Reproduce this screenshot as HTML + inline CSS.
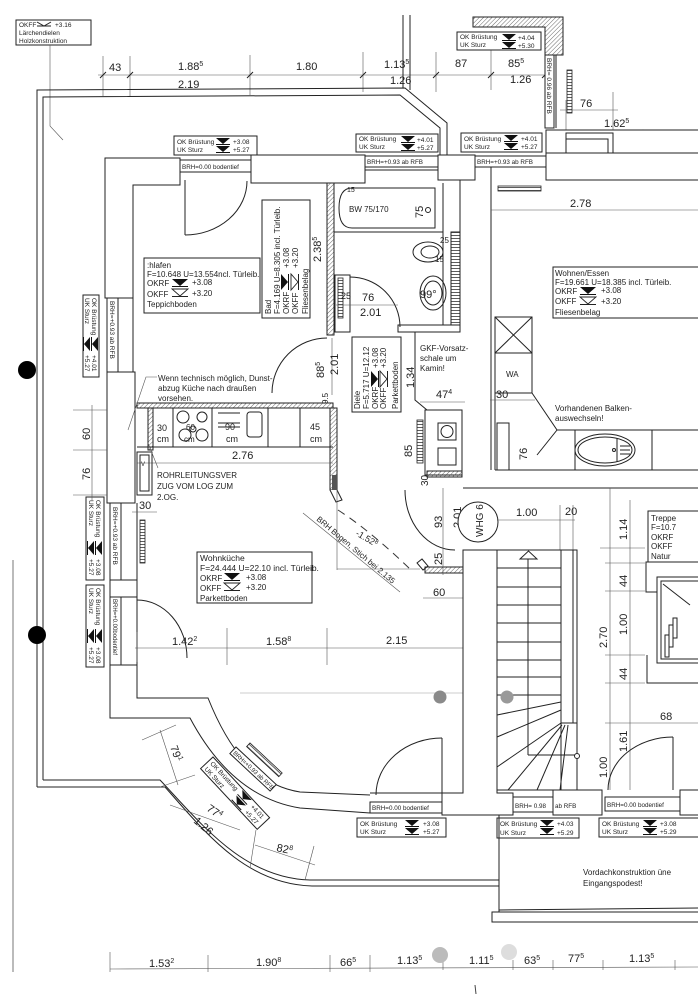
<!DOCTYPE html>
<html><head><meta charset="utf-8">
<style>
html,body{margin:0;padding:0;background:#fff;}
svg{display:block;}
text{font-family:"Liberation Sans",sans-serif;fill:#222;}
.s{stroke:#222;stroke-width:1;fill:none;}
.t{stroke:#555;stroke-width:0.6;fill:none;}
.w{stroke:#222;stroke-width:1;fill:#fff;}
.d{font-size:11px;}
.n{font-size:8px;}
.m{font-size:6.5px;}
</style></head><body>
<svg width="698" height="1000" viewBox="0 0 698 1000" xmlns="http://www.w3.org/2000/svg">
<defs>
<pattern id="h" width="3" height="3" patternUnits="userSpaceOnUse" patternTransform="rotate(45)"><line x1="0" y1="0" x2="0" y2="3" stroke="#444" stroke-width="0.8"/></pattern>
<pattern id="hz" width="3" height="3" patternUnits="userSpaceOnUse"><line x1="0" y1="1.5" x2="3" y2="1.5" stroke="#333" stroke-width="0.8"/></pattern>
<g id="mk"><polygon points="0,0 14,0 7,6" fill="#111"/><line x1="0" y1="6.5" x2="14" y2="6.5" stroke="#111"/><polygon points="0,8 14,8 7,14" fill="#111"/><line x1="0" y1="14.5" x2="14" y2="14.5" stroke="#111"/></g>
<g id="rf"><polygon points="0,0 16,0 8,7" fill="#111"/><line x1="0" y1="7.5" x2="16" y2="7.5" stroke="#111"/></g>
<g id="ff"><polygon points="0,0 16,0 8,7" fill="none" stroke="#222" stroke-width="0.9"/><line x1="0" y1="7.5" x2="16" y2="7.5" stroke="#222"/></g>
</defs>
<rect width="698" height="1000" fill="#fff"/>

<!-- page edge line -->
<line x1="13" y1="560" x2="13" y2="972" stroke="#777" stroke-width="1"/>

<!-- top-left note -->
<rect x="16" y="20" width="75" height="25" class="s"/>
<text x="19" y="27" class="m">OKFF</text>
<path d="M37,22 L44,26 L51,22 M37,26 L51,26" class="s" stroke-width="0.8"/>
<text x="55" y="27" class="m">+3.16</text>
<text x="19" y="35" class="m">Lärchendielen</text>
<text x="19" y="43" class="m">Holzkonstruktion</text>
<polyline points="50,45 50,126 63,140" class="t"/>

<!-- top dimensions -->
<line x1="98" y1="75" x2="552" y2="75" class="t"/>
<g class="t">
<line x1="103" y1="56" x2="103" y2="96"/><line x1="130" y1="56" x2="130" y2="96"/><line x1="250" y1="55" x2="250" y2="95"/>
<line x1="363" y1="52" x2="363" y2="92"/><line x1="436" y1="52" x2="436" y2="92"/><line x1="491" y1="50" x2="491" y2="90"/><line x1="545" y1="50" x2="545" y2="90"/>
</g>
<g stroke="#222" stroke-width="1">
<line x1="100" y1="78" x2="106" y2="72"/><line x1="127" y1="78" x2="133" y2="72"/><line x1="247" y1="78" x2="253" y2="72"/><line x1="360" y1="78" x2="366" y2="72"/><line x1="433" y1="78" x2="439" y2="72"/><line x1="488" y1="78" x2="494" y2="72"/><line x1="542" y1="78" x2="548" y2="72"/>
</g>
<text x="109" y="71" class="d">43</text>
<text x="178" y="70" class="d">1.88<tspan font-size="7" dy="-4">5</tspan></text>
<text x="296" y="70" class="d">1.80</text>
<text x="384" y="68" class="d">1.13<tspan font-size="7" dy="-4">5</tspan></text>
<text x="455" y="67" class="d">87</text>
<text x="508" y="67" class="d">85<tspan font-size="7" dy="-4">5</tspan></text>
<text x="178" y="88" class="d">2.19</text>
<text x="390" y="84" class="d">1.26</text>
<text x="510" y="83" class="d">1.26</text>

<!-- thin verticals near top -->
<line x1="403" y1="15" x2="403" y2="88" class="s"/>
<line x1="410" y1="15" x2="410" y2="90" class="s"/>

<!-- terrace outline -->
<path d="M37,787 L37,90 L405,88 L447,123 L447,155" class="s"/>
<path d="M43,780 L43,97 L400,95 L440,128 L440,155" class="s"/>
<path d="M37,787 L165,787 C205,832 245,884 312,886 L499,886" class="s"/>
<path d="M43,780 L160,780 C200,822 242,878 310,880 L499,880" class="s"/>

<!-- top right hatched -->
<polygon points="473,17 563,17 563,55 545,55 545,27 473,27" fill="url(#h)" stroke="#222"/>
<rect x="457" y="32" width="84" height="18" class="w"/>
<text x="460" y="39" class="m">OK Brüstung</text><text x="460" y="47" class="m">UK Sturz</text>
<use href="#mk" x="502" y="34"/><text x="518" y="40" class="m">+4.04</text><text x="518" y="48" class="m">+5.30</text>
<rect x="545" y="55" width="9" height="73" class="w"/>
<text transform="translate(547,58) rotate(90)" class="m">BRH= 0.96 ab RFB</text>
<line x1="556" y1="55" x2="556" y2="128" class="s"/>
<rect x="567" y="70" width="5" height="43" fill="url(#hz)" stroke="#222" stroke-width="0.8"/>
<line x1="566" y1="100" x2="566" y2="130" class="t"/><line x1="613" y1="92" x2="613" y2="130" class="t"/>
<line x1="560" y1="110" x2="618" y2="110" class="t"/>
<text x="580" y="107" class="d">76</text>
<line x1="546" y1="130" x2="698" y2="130" class="t"/>
<text x="604" y="127" class="d">1.62<tspan font-size="7" dy="-4">5</tspan></text>
<text transform="translate(641,129) rotate(90)" class="d">30</text>

<!-- right top wall -->
<rect x="546" y="130" width="160" height="50" class="w"/>
<line x1="546" y1="153" x2="698" y2="153" class="s"/>
<rect x="566" y="133" width="47" height="20" class="s"/>
<rect x="566" y="139" width="42" height="14" class="s"/>

<!-- top wall labels -->
<rect x="174" y="136" width="83" height="19" class="w"/>
<text x="177" y="144" class="m">OK Brüstung</text><text x="177" y="152" class="m">UK Sturz</text>
<use href="#mk" x="216" y="138"/><text x="233" y="144" class="m">+3.08</text><text x="233" y="152" class="m">+5.27</text>
<rect x="356" y="134" width="82" height="18" class="w"/>
<text x="359" y="141" class="m">OK Brüstung</text><text x="359" y="149" class="m">UK Sturz</text>
<use href="#mk" x="401" y="136"/><text x="417" y="142" class="m">+4.01</text><text x="417" y="150" class="m">+5.27</text>
<rect x="461" y="133" width="81" height="19" class="w"/>
<text x="464" y="141" class="m">OK Brüstung</text><text x="464" y="149" class="m">UK Sturz</text>
<use href="#mk" x="504" y="135"/><text x="521" y="141" class="m">+4.01</text><text x="521" y="149" class="m">+5.27</text>

<!-- top walls -->
<polygon points="105,158 180,158 180,185 133,185 133,298 105,298" class="w"/>
<rect x="180" y="160" width="71" height="12" class="w"/>
<text x="182" y="169" font-size="6.3px">BRH=0.00 bodentief</text>
<rect x="251" y="155" width="114" height="28" class="w"/>
<rect x="365" y="156" width="73" height="11" class="w"/>
<text x="367" y="164" font-size="6.3px">BRH=+0.93 ab RFB</text>
<line x1="365" y1="170" x2="438" y2="170" class="s"/>
<rect x="438" y="155" width="37" height="25" class="w"/>
<rect x="475" y="156" width="71" height="11" class="w"/>
<text x="477" y="164" font-size="6.3px">BRH=+0.93 ab RFB</text>
<line x1="491" y1="167" x2="491" y2="470" class="s"/>
<line x1="491" y1="167" x2="546" y2="167" class="s"/>
<rect x="498" y="186" width="43" height="5" fill="url(#hz)" stroke="#222" stroke-width="0.8"/>
<line x1="491" y1="210" x2="698" y2="210" class="t"/>
<text x="570" y="207" class="d">2.78</text>

<!-- bedroom door -->
<line x1="185" y1="180" x2="185" y2="235" class="s"/>
<path d="M185,235 A62,54 0 0 0 247,181" class="s" stroke-width="0.8"/>

<!-- bedroom label -->
<rect x="144" y="258" width="116" height="55" class="s" stroke="#666"/>
<text x="147" y="268" class="n">:hlafen</text>
<text x="147" y="277" class="n">F=10.648 U=13.554ncl. Türleib.</text>
<text x="147" y="286" class="n" fill="#555">OKRF</text><use href="#rf" x="172" y="279"/><text x="192" y="285" class="n" fill="#555">+3.08</text>
<text x="147" y="297" class="n" fill="#555">OKFF</text><use href="#ff" x="172" y="289"/><text x="192" y="296" class="n" fill="#555">+3.20</text>
<text x="147" y="307" class="n">Teppichboden</text>

<!-- Bad label rotated -->
<g transform="translate(262,318) rotate(-90)">
<rect x="0" y="0" width="118" height="48" class="s" stroke="#666"/>
<text x="4" y="9" class="n">Bad</text>
<text x="4" y="18" class="n">F=4.169 U=8.305 incl. Türleib.</text>
<text x="4" y="27" class="n" fill="#555">OKRF</text><text x="50" y="27" class="n" fill="#555">+3.08</text>
<text x="4" y="36" class="n" fill="#555">OKFF</text><text x="50" y="36" class="n" fill="#555">+3.20</text>
<use href="#rf" x="28" y="19"/><use href="#ff" x="28" y="29"/>
<text x="4" y="46" class="n">Fliesenbelag</text>
</g>
<text transform="translate(321,262) rotate(-90)" class="d">2.38<tspan font-size="7" dy="-4">5</tspan></text>

<!-- bath -->
<rect x="327" y="183" width="7" height="152" fill="url(#h)" stroke="#222"/>
<path d="M352,188 L435,188 L435,228 L352,228 Q339,228 339,208 Q339,188 352,188 Z" class="s"/>
<text x="349" y="212" class="n" font-size="9px">BW  75/170</text>
<text transform="translate(423,218) rotate(-90)" class="d">75</text>
<circle cx="428" cy="210" r="2.5" class="s"/>
<text x="347" y="192" font-size="7px">15</text>
<line x1="334" y1="232" x2="443" y2="232" class="s"/>
<line x1="443" y1="183" x2="443" y2="325" class="s"/>
<line x1="460" y1="180" x2="460" y2="325" class="s"/>
<rect x="451" y="232" width="9" height="93" fill="url(#hz)" stroke="#222"/>
<ellipse cx="428" cy="252" rx="15" ry="10" class="s"/>
<ellipse cx="430" cy="252" rx="9" ry="6" class="s"/>
<ellipse cx="433" cy="293" rx="13" ry="17" class="s"/>
<ellipse cx="433" cy="293" rx="9" ry="12" class="s"/>
<text x="420" y="298" class="d" font-size="10px">99°</text>
<text x="440" y="243" font-size="8px">25</text>
<text x="435" y="262" font-size="8px">15</text>
<rect x="398" y="325" width="62" height="7" class="w"/>
<rect x="335" y="275" width="15" height="57" class="w"/>
<rect x="338" y="278" width="5" height="40" fill="url(#hz)" stroke="#222" stroke-width="0.8"/>
<line x1="350" y1="277" x2="350" y2="327" class="s"/>
<path d="M350,277 A50,50 0 0 1 400,327" class="s" stroke-width="0.8"/>
<line x1="336" y1="305" x2="398" y2="305" class="t"/>
<text x="341" y="299" font-size="9px">25</text>
<text x="362" y="301" class="d">76</text>
<text x="360" y="316" class="d">2.01</text>

<!-- hall / diele -->
<path d="M327,338 A55,55 0 0 0 272,393" class="s" stroke-width="0.8"/>
<line x1="332" y1="338" x2="332" y2="395" class="t"/>
<text transform="translate(324,378) rotate(-90)" class="d">88<tspan font-size="7" dy="-4">5</tspan></text>
<text transform="translate(338,375) rotate(-90)" class="d">2.01</text>
<text transform="translate(328,404) rotate(-90)" font-size="8px">9.5</text>
<g transform="translate(352,412) rotate(-90)">
<rect x="0" y="0" width="75" height="49" class="s" stroke="#666"/>
<text x="3" y="8" class="n">Diele</text>
<text x="3" y="17" class="n">F=5.717 U=12.12</text>
<text x="3" y="26" class="n" fill="#555">OKRF</text><text x="44" y="26" class="n" fill="#555">+3.08</text>
<text x="3" y="34" class="n" fill="#555">OKFF</text><text x="44" y="34" class="n" fill="#555">+3.20</text>
<use href="#rf" x="25" y="19"/><use href="#ff" x="25" y="28"/>
<text x="3" y="46" class="n">Parkettboden</text>
</g>
<text transform="translate(414,388) rotate(-90)" class="d">1.34</text>
<polyline points="415,332 415,400 427,410 462,410" class="s"/>
<text x="420" y="351" class="n">GKF-Vorsatz-</text>
<text x="420" y="361" class="n">schale um</text>
<text x="420" y="371" class="n">Kamin!</text>
<line x1="420" y1="402" x2="465" y2="402" class="t"/>
<text x="436" y="398" class="d">47<tspan font-size="7" dy="-4">4</tspan></text>
<rect x="425" y="410" width="37" height="65" class="s"/>
<rect x="417" y="420" width="6" height="43" fill="url(#hz)" stroke="#222" stroke-width="0.8"/>
<rect x="438" y="423" width="18" height="17" class="s"/>
<circle cx="447" cy="431.5" r="6" class="s"/>
<rect x="438" y="448" width="18" height="17" class="s"/>
<rect x="427" y="471" width="35" height="6" fill="url(#h)" stroke="#222"/>
<text transform="translate(412,457) rotate(-90)" class="d">85</text>
<text transform="translate(428,486) rotate(-90)" font-size="10px">30</text>

<!-- Wohnen -->
<rect x="495" y="317" width="37" height="36" class="s"/>
<path d="M495,317 L532,353 M532,317 L495,353" class="s"/>
<rect x="495" y="353" width="37" height="40" class="s"/>
<text x="506" y="377" class="n">WA</text>
<line x1="495" y1="393" x2="495" y2="470" class="s"/>
<polyline points="532,393 557,430 537,455" class="s"/>
<line x1="490" y1="400" x2="535" y2="400" class="t"/>
<text x="496" y="398" class="d">30</text>
<rect x="497" y="423" width="12" height="47" class="s"/>
<text transform="translate(527,460) rotate(-90)" class="d">76</text>
<text x="555" y="411" class="n">Vorhandenen Balken-</text>
<text x="555" y="421" class="n">auswechseln!</text>
<line x1="557" y1="430" x2="698" y2="430" class="s"/>
<line x1="495" y1="470" x2="698" y2="470" class="s"/>
<line x1="575" y1="430" x2="575" y2="470" class="s"/>
<line x1="652" y1="430" x2="652" y2="470" class="s"/>
<ellipse cx="605" cy="450" rx="30" ry="16" class="s"/>
<ellipse cx="605" cy="450" rx="27" ry="13" class="s"/>
<line x1="617" y1="438" x2="617" y2="462" class="s"/>
<line x1="620" y1="446" x2="630" y2="446" class="s"/><line x1="620" y1="450" x2="630" y2="450" class="s"/><line x1="620" y1="454" x2="630" y2="454" class="s"/>
<circle cx="614" cy="450" r="1.5" class="s"/>
<line x1="463" y1="488" x2="698" y2="488" class="s"/>
<rect x="553" y="267" width="150" height="51" class="s" stroke="#666"/>
<text x="555" y="276" class="n">Wohnen/Essen</text>
<text x="555" y="285" class="n">F=19.661 U=18.385 incl. Türleib.</text>
<text x="555" y="294" class="n" fill="#555">OKRF</text><use href="#rf" x="580" y="287"/><text x="601" y="293" class="n" fill="#555">+3.08</text>
<text x="555" y="304" class="n" fill="#555">OKFF</text><use href="#ff" x="580" y="297"/><text x="601" y="304" class="n" fill="#555">+3.20</text>
<text x="555" y="315" class="n">Fliesenbelag</text>

<!-- left walls -->
<rect x="107" y="298" width="11" height="74" class="w"/>
<text transform="translate(110,301) rotate(90)" class="m">BRH=+0.93 ab RFB</text>
<line x1="133" y1="298" x2="133" y2="372" class="s"/>
<rect x="107" y="372" width="28" height="131" class="w"/>
<rect x="110" y="503" width="11" height="77" class="w"/>
<text transform="translate(113,507) rotate(90)" class="m">BRH=+0.93 ab RFB</text>
<line x1="137" y1="503" x2="137" y2="580" class="s"/>
<rect x="110" y="580" width="27" height="17" class="w"/>
<rect x="110" y="597" width="11" height="68" class="w"/>
<text transform="translate(113,599) rotate(90)" font-size="6px">BRH=+0.00bodentief</text>
<line x1="137" y1="597" x2="137" y2="665" class="s"/>
<rect x="140" y="520" width="5" height="43" fill="url(#hz)" stroke="#222" stroke-width="0.8"/>
<line x1="132" y1="512" x2="157" y2="512" class="t"/>
<text x="139" y="509" class="d">30</text>

<!-- left rotated labels -->
<g transform="translate(99,295) rotate(90)">
<rect x="0" y="0" width="82" height="16" class="w"/>
<text x="3" y="7" class="m">OK Brüstung</text><text x="3" y="14" class="m">UK Sturz</text>
<use href="#mk" x="42" y="1"/><text x="60" y="7" class="m">+4.01</text><text x="60" y="14" class="m">+5.27</text>
</g>
<g transform="translate(104,497) rotate(90)">
<rect x="0" y="0" width="83" height="18" class="w"/>
<text x="3" y="8" class="m">OK Brüstung</text><text x="3" y="15" class="m">UK Sturz</text>
<use href="#mk" x="44" y="2"/><text x="62" y="8" class="m">+3.08</text><text x="62" y="15" class="m">+5.27</text>
</g>
<g transform="translate(104,585) rotate(90)">
<rect x="0" y="0" width="82" height="18" class="w"/>
<text x="3" y="8" class="m">OK Brüstung</text><text x="3" y="15" class="m">UK Sturz</text>
<use href="#mk" x="44" y="2"/><text x="62" y="8" class="m">+3.08</text><text x="62" y="15" class="m">+5.27</text>
</g>
<g class="t"><line x1="73" y1="410" x2="107" y2="410"/><line x1="73" y1="450" x2="107" y2="450"/><line x1="73" y1="495" x2="107" y2="495"/><line x1="92" y1="405" x2="92" y2="500"/></g>
<text transform="translate(90,440) rotate(-90)" class="d">60</text>
<text transform="translate(90,480) rotate(-90)" class="d">76</text>

<!-- kitchen -->
<rect x="137" y="403" width="196" height="5" fill="url(#h)" stroke="#222"/>
<line x1="137" y1="447" x2="333" y2="447" class="s"/>
<rect x="148" y="408" width="5" height="42" fill="url(#h)" stroke="#222"/>
<g class="s"><line x1="173" y1="408" x2="173" y2="447"/><line x1="212" y1="408" x2="212" y2="447"/><line x1="268" y1="408" x2="268" y2="447"/><line x1="300" y1="408" x2="300" y2="447"/></g>
<circle cx="183" cy="417" r="6" class="s"/><circle cx="202" cy="417" r="5" class="s"/>
<circle cx="185" cy="435" r="6" class="s"/><circle cx="202" cy="435" r="6" class="s"/><circle cx="193" cy="429" r="3" class="s"/>
<g class="s"><line x1="218" y1="413" x2="240" y2="413"/><line x1="218" y1="423" x2="240" y2="423"/><line x1="218" y1="427" x2="240" y2="427"/></g>
<rect x="247" y="412" width="15" height="25" rx="3" class="s"/>
<text x="157" y="431" font-size="9px">30</text><text x="157" y="442" font-size="9px">cm</text>
<text x="186" y="430" font-size="8px">60</text><text x="184" y="442" font-size="8px">cm</text>
<text x="225" y="430" font-size="9px">90</text><text x="226" y="442" font-size="9px">cm</text>
<text x="310" y="430" font-size="9px">45</text><text x="310" y="442" font-size="9px">cm</text>
<rect x="330" y="408" width="7" height="82" fill="url(#h)" stroke="#222"/>
<rect x="332" y="475" width="5" height="15" fill="#555"/>
<polyline points="330,490 336,502 342,500 337,490" class="w"/>
<line x1="137" y1="463" x2="333" y2="463" class="t"/>
<text x="232" y="459" class="d">2.76</text>
<rect x="137" y="452" width="15" height="43" class="s"/>
<rect x="140" y="455" width="9" height="36" class="s"/>
<text x="141" y="466" font-size="6px">V</text>
<polyline points="148,443 158,468" class="t"/>
<text x="157" y="478" class="n">ROHRLEITUNGSVER</text>
<text x="157" y="489" class="n">ZUG VOM LOG ZUM</text>
<text x="157" y="500" class="n">2.OG.</text>
<polyline points="157,377 146,377 128,430" class="t"/>
<text x="158" y="381" class="n">Wenn technisch möglich, Dunst-</text>
<text x="158" y="391" class="n">abzug Küche nach draußen</text>
<text x="158" y="401" class="n">vorsehen.</text>

<!-- Bogen -->
<line x1="337" y1="490" x2="337" y2="570" class="t"/>
<line x1="337" y1="569" x2="420" y2="569" class="t"/>
<path d="M338,510 Q372,532 413,572" fill="none" stroke="#333" stroke-dasharray="8,6"/>
<line x1="303" y1="513" x2="400" y2="592" class="t"/>
<text transform="translate(355,535) rotate(30)" font-size="9px">-1.52<tspan font-size="6" dy="-3">8</tspan></text>
<text transform="translate(316,520) rotate(40)" font-size="8px">BRH Bogen, Stich bei 2.135</text>
<polygon points="417,563 422,559 428,566 423,570" class="w"/>
<rect x="425" y="567" width="38" height="6" fill="url(#h)" stroke="#222"/>
<line x1="423" y1="598" x2="463" y2="598" class="t"/>
<text x="433" y="596" class="d">60</text>

<!-- WHG door -->
<path d="M405,490 A50,60 0 0 0 455,550" class="s" stroke-width="0.8"/>
<line x1="443" y1="488" x2="443" y2="575" class="t"/>
<text transform="translate(442,528) rotate(-90)" class="d">93</text>
<text transform="translate(461,528) rotate(-90)" class="d">2.01</text>
<text transform="translate(442,565) rotate(-90)" class="d">25</text>
<circle cx="478" cy="522" r="20" class="w"/>
<text transform="translate(483,537) rotate(-90)" font-size="10px">WHG 6</text>
<line x1="497" y1="520" x2="575" y2="520" class="t"/>
<line x1="560" y1="505" x2="560" y2="550" class="t"/><line x1="573" y1="505" x2="573" y2="550" class="t"/>
<text x="516" y="516" class="d">1.00</text>
<text x="565" y="515" class="d">20</text>

<!-- wohnkueche label -->
<rect x="197" y="552" width="115" height="51" class="s" stroke="#666"/>
<text x="200" y="561" font-size="8.5px">Wohnküche</text>
<text x="200" y="571" font-size="8.5px">F=24.444 U=22.10 incl. Türleib.</text>
<text x="200" y="581" class="n" fill="#555">OKRF</text><use href="#rf" x="224" y="573"/><text x="246" y="580" class="n" fill="#555">+3.08</text>
<text x="200" y="591" class="n" fill="#555">OKFF</text><use href="#ff" x="224" y="583"/><text x="246" y="590" class="n" fill="#555">+3.20</text>
<text x="200" y="601" class="n">Parkettboden</text>

<!-- left door -->
<path d="M137,600 A50,58 0 0 1 187,658" class="s" stroke-width="0.8"/>
<!-- room dims -->
<line x1="135" y1="648" x2="465" y2="648" class="t"/>
<g class="t"><line x1="137" y1="632" x2="137" y2="662"/><line x1="227" y1="628" x2="227" y2="665"/><line x1="327" y1="628" x2="327" y2="665"/></g>
<text x="172" y="645" class="d">1.42<tspan font-size="7" dy="-4">2</tspan></text>
<text x="266" y="645" class="d">1.58<tspan font-size="7" dy="-4">8</tspan></text>
<text x="386" y="644" class="d">2.15</text>
<line x1="240" y1="693" x2="463" y2="693" stroke="#bbb" stroke-width="0.8"/>

<!-- lower curved wall -->
<path d="M110,665 L110,718 L190,718 C215,765 250,800 300,808 L370,813" class="s"/>
<path d="M137,665 L137,698 L208,698 C228,748 255,785 300,792 L370,795" class="s"/>
<line x1="110" y1="665" x2="137" y2="665" class="s"/>
<g transform="translate(250,743) rotate(43)"><rect x="0" y="0" width="44" height="5" fill="url(#hz)" stroke="#222" stroke-width="0.8"/></g>
<g transform="translate(236,747) rotate(43)"><rect x="0" y="0" width="55" height="9" class="w"/><text x="2" y="7" font-size="6px">BRH=+0.93 ab RFB</text></g>
<g transform="translate(213,757) rotate(47)">
<rect x="0" y="0" width="83" height="17" class="w"/>
<text x="3" y="7" class="m">OK Brüstung</text><text x="3" y="15" class="m">UK Sturz</text>
<use href="#mk" x="44" y="1"/><text x="62" y="7" class="m">+4.01</text><text x="62" y="15" class="m">+5.27</text>
</g>
<g class="t"><line x1="142" y1="740" x2="176" y2="725"/><line x1="160" y1="787" x2="195" y2="775"/><line x1="160" y1="730" x2="178" y2="785"/><line x1="170" y1="805" x2="240" y2="830"/><line x1="255" y1="845" x2="315" y2="865"/><line x1="256" y1="830" x2="250" y2="868"/><line x1="314" y1="846" x2="305" y2="880"/></g>
<text transform="translate(170,747) rotate(70)" class="d">79<tspan font-size="7" dy="-4">1</tspan></text>
<text transform="translate(206,810) rotate(35)" class="d">77<tspan font-size="7" dy="-4">4</tspan></text>
<text transform="translate(193,822) rotate(40)" class="d">1.26</text>
<text transform="translate(276,851) rotate(12)" class="d">82<tspan font-size="7" dy="-4">8</tspan></text>

<!-- bottom door & wall -->
<line x1="442" y1="738" x2="442" y2="795" class="s"/>
<path d="M376,795 A66,57 0 0 1 442,738" class="s" stroke-width="0.8"/>
<rect x="370" y="802" width="72" height="11" class="w"/>
<text x="372" y="810" font-size="6.3px">BRH=0.00 bodentief</text>
<line x1="370" y1="793" x2="442" y2="793" class="s"/>
<polygon points="442,793 463,793 463,550 497,550 497,793 513,793 513,815 442,815" class="w"/>
<rect x="513" y="797" width="40" height="15" class="w"/>
<text x="515" y="808" font-size="6.3px">BRH= 0.98</text>
<rect x="553" y="790" width="49" height="25" class="w"/>
<text x="555" y="808" font-size="6.3px">ab RFB</text>
<rect x="605" y="797" width="75" height="14" class="w"/>
<text x="607" y="807" font-size="6.3px">BRH=0.00 bodentief</text>
<rect x="680" y="790" width="20" height="25" class="w"/>

<!-- stair -->
<rect x="497" y="550" width="80" height="240" class="s"/>
<g class="s">
<line x1="497" y1="568" x2="561" y2="568"/><line x1="497" y1="587" x2="561" y2="587"/><line x1="497" y1="605" x2="561" y2="605"/><line x1="497" y1="623" x2="561" y2="623"/><line x1="497" y1="642" x2="561" y2="642"/><line x1="497" y1="660" x2="561" y2="660"/><line x1="497" y1="677" x2="561" y2="677"/><line x1="497" y1="695" x2="561" y2="695"/>
<line x1="497" y1="715" x2="561" y2="702"/><line x1="497" y1="737" x2="561" y2="710"/><line x1="497" y1="767" x2="561" y2="723"/>
<line x1="508" y1="790" x2="562" y2="725"/><line x1="537" y1="790" x2="565" y2="725"/><line x1="560" y1="790" x2="568" y2="725"/>
<line x1="528" y1="555" x2="528" y2="755"/><line x1="528" y1="755" x2="575" y2="755"/>
<rect x="561" y="550" width="12" height="173"/>
<rect x="561" y="723" width="16" height="67"/>
</g>
<circle cx="577" cy="756" r="2.5" class="w"/>
<polygon points="520,559 537,559 528.5,551" class="w"/>
<circle cx="440" cy="697" r="6.5" fill="#8a8a8a"/>
<circle cx="507" cy="697" r="6.5" fill="#999"/>

<!-- right side dims & fireplace -->
<g class="t">
<line x1="610" y1="488" x2="610" y2="790"/><line x1="630" y1="500" x2="630" y2="790"/>
<line x1="600" y1="548" x2="645" y2="548"/><line x1="605" y1="563" x2="645" y2="563"/><line x1="605" y1="591" x2="645" y2="591"/><line x1="605" y1="655" x2="645" y2="655"/><line x1="605" y1="683" x2="645" y2="683"/><line x1="605" y1="723" x2="698" y2="723"/>
</g>
<text transform="translate(627,540) rotate(-90)" class="d">1.14</text>
<text transform="translate(627,587) rotate(-90)" class="d">44</text>
<text transform="translate(627,635) rotate(-90)" class="d">1.00</text>
<text transform="translate(627,680) rotate(-90)" class="d">44</text>
<text transform="translate(607,648) rotate(-90)" class="d">2.70</text>
<text x="660" y="720" class="d">68</text>
<text transform="translate(627,752) rotate(-90)" class="d">1.61</text>
<text transform="translate(607,778) rotate(-90)" class="d">1.00</text>
<rect x="648" y="511" width="60" height="51" class="s" stroke="#666"/>
<text x="651" y="521" font-size="8px">Treppe</text>
<text x="651" y="530" font-size="8px">F=10.7</text>
<text x="651" y="540" font-size="8px" fill="#777">OKRF</text>
<text x="651" y="549" font-size="8px" fill="#777">OKFF</text>
<text x="651" y="559" font-size="8px">Natur</text>
<polyline points="698,562 646,562 646,592 657,592" class="s"/>
<rect x="657" y="577" width="45" height="86" class="s"/>
<rect x="661" y="581" width="41" height="78" class="s"/>
<line x1="663" y1="584" x2="690" y2="605" class="s"/>
<g class="s"><rect x="665" y="635" width="4" height="22"/><rect x="669" y="625" width="4" height="22"/><rect x="673" y="618" width="4" height="20"/></g>
<polyline points="647,655 647,683 698,683" class="s"/>
<line x1="673" y1="737" x2="673" y2="790" class="s"/>
<path d="M608,790 A65,53 0 0 1 673,737" class="s" stroke-width="0.8"/>

<!-- bottom labels -->
<rect x="357" y="818" width="89" height="19" class="w"/>
<text x="360" y="826" class="m">OK Brüstung</text><text x="360" y="834" class="m">UK Sturz</text>
<use href="#mk" x="405" y="820"/><text x="423" y="826" class="m">+3.08</text><text x="423" y="834" class="m">+5.27</text>
<rect x="497" y="818" width="82" height="20" class="w"/>
<text x="500" y="826" class="m">OK Brüstung</text><text x="500" y="835" class="m">UK Sturz</text>
<use href="#mk" x="540" y="820"/><text x="557" y="826" class="m">+4.03</text><text x="557" y="835" class="m">+5.29</text>
<rect x="599" y="818" width="104" height="19" class="w"/>
<text x="602" y="826" class="m">OK Brüstung</text><text x="602" y="834" class="m">UK Sturz</text>
<use href="#mk" x="643" y="820"/><text x="660" y="826" class="m">+3.08</text><text x="660" y="834" class="m">+5.29</text>
<line x1="499" y1="815" x2="499" y2="912" class="s"/>
<line x1="499" y1="910" x2="698" y2="908" class="s"/>
<rect x="492" y="912" width="210" height="10" class="w"/>
<text x="583" y="875" class="n">Vordachkonstruktion üne</text>
<text x="583" y="886" class="n">Eingangspodest!</text>

<!-- bottom dimension -->
<line x1="110" y1="969" x2="698" y2="967" class="t"/>
<g class="t"><line x1="110" y1="952" x2="110" y2="972"/><line x1="208" y1="955" x2="208" y2="972"/><line x1="330" y1="955" x2="330" y2="972"/><line x1="370" y1="955" x2="370" y2="972"/><line x1="443" y1="960" x2="443" y2="970"/><line x1="513" y1="960" x2="513" y2="970"/><line x1="553" y1="960" x2="553" y2="970"/><line x1="603" y1="960" x2="603" y2="970"/><line x1="675" y1="960" x2="675" y2="970"/></g>
<text x="149" y="967" class="d" fill="#444">1.53<tspan font-size="7" dy="-4">2</tspan></text>
<text x="256" y="966" class="d">1.90<tspan font-size="7" dy="-4">8</tspan></text>
<text x="340" y="966" class="d">66<tspan font-size="7" dy="-4">5</tspan></text>
<text x="397" y="964" class="d">1.13<tspan font-size="7" dy="-4">5</tspan></text>
<text x="469" y="964" class="d">1.11<tspan font-size="7" dy="-4">5</tspan></text>
<text x="524" y="964" class="d">63<tspan font-size="7" dy="-4">5</tspan></text>
<text x="568" y="962" class="d">77<tspan font-size="7" dy="-4">5</tspan></text>
<text x="629" y="962" class="d" fill="#aaa">1.13<tspan font-size="7" dy="-4">5</tspan></text>
<circle cx="440" cy="955" r="8" fill="#bbb"/>
<circle cx="509" cy="952" r="8" fill="#ddd"/>
<line x1="475" y1="985" x2="476" y2="994" stroke="#444"/>

<!-- black punch holes -->
<circle cx="27" cy="370" r="9" fill="#000"/>
<circle cx="37" cy="635" r="9" fill="#000"/>
</svg>
</body></html>
